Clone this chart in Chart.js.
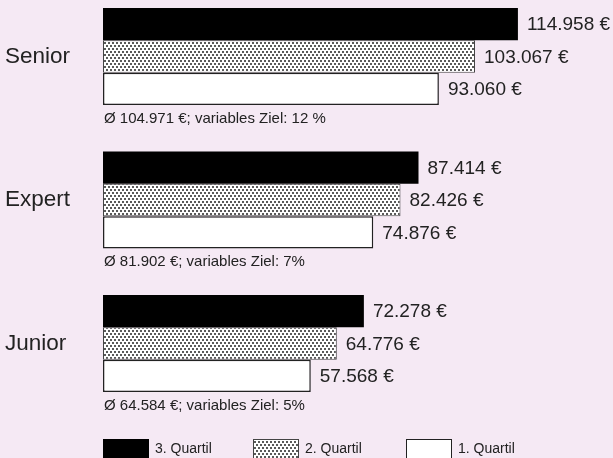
<!DOCTYPE html>
<html lang="de">
<head>
<meta charset="utf-8">
<script src="https://cdn.jsdelivr.net/npm/chart.js@4.4.1/dist/chart.umd.min.js"></script>
<style>
  html, body { margin: 0; padding: 0; background: #f5e9f4; }
  #wrap { width: 613px; height: 458px; position: relative; }
</style>
</head>
<body>
<div id="wrap"><canvas id="chartCanvas"></canvas></div>
<script>
// Gehaltsquartile je Stufe
const categories = ['Senior', 'Expert', 'Junior'];
const seriesLabels = ['3. Quartil', '2. Quartil', '1. Quartil'];
const quartil3 = [114958, 87414, 72278];
const quartil2 = [103067, 82426, 64776];
const quartil1 = [93060, 74876, 57568];
const averages = [104971, 81902, 64584];
const targets = ['12 %', '7%', '5%'];

const FONT = '"Liberation Sans", Arial, sans-serif';
const TEXT = '#222222';
const BG = '#f5e9f4';

// Tausenderpunkt wie im Original
function fmt(v) {
  return String(v).replace(/\B(?=(\d{3})+(?!\d))/g, '.');
}

// gepunktetes Muster fuer das 2. Quartil
function makeDots(ctx) {
  const c = document.createElement('canvas');
  c.width = 4; c.height = 6;
  const g = c.getContext('2d');
  g.fillStyle = '#fff';
  g.fillRect(0, 0, 4, 6);
  g.fillStyle = '#5a5a5a';
  g.fillRect(0, 0, 2, 2);
  g.fillRect(2, 3, 2, 2);
  return ctx.createPattern(c, 'repeat');
}

const ctx = document.getElementById('chartCanvas').getContext('2d');
const dots = makeDots(ctx);

const fills = ['#000000', dots, '#ffffff'];
const borders = ['#000000', '#444444', '#222222'];
const values = [quartil3, quartil2, quartil1];

const bgPlugin = {
  id: 'bg',
  beforeDraw(chart) {
    const c = chart.ctx;
    c.save();
    c.fillStyle = BG;
    c.fillRect(0, 0, chart.width, chart.height);
    c.restore();
  }
};

// Werte rechts neben den Balken, Durchschnitt darunter, Legende unten
const labelPlugin = {
  id: 'labels',
  afterDatasetsDraw(chart) {
    const c = chart.ctx;
    c.save();
    c.fillStyle = TEXT;
    c.textBaseline = 'middle';
    c.font = '19px ' + FONT;
    chart.data.datasets.forEach((ds, i) => {
      chart.getDatasetMeta(i).data.forEach((bar, j) => {
        c.fillText(fmt(values[i][j]) + ' €', bar.x + 9, bar.y + 1);
      });
    });

    const yScale = chart.scales.y;
    c.font = '15px ' + FONT;
    categories.forEach((cat, i) => {
      const y = yScale.getPixelForValue(i) + 62;
      c.fillText('Ø ' + fmt(averages[i]) + ' €; variables Ziel: ' + targets[i], 104, y);
    });

    // Legende
    const legendX = [103, 253, 406];
    c.font = '14px ' + FONT;
    seriesLabels.forEach((lab, i) => {
      const x = legendX[i];
      c.fillStyle = fills[i];
      c.fillRect(x, 439, 46, 22);
      if (i > 0) {
        c.strokeStyle = borders[i];
        c.lineWidth = 1;
        c.strokeRect(x + 0.5, 439.5, 45, 22);
      }
      c.fillStyle = TEXT;
      c.fillText(lab, x + 52, 449);
    });
    c.restore();
  }
};

new Chart(ctx, {
  type: 'bar',
  data: {
    datasets: seriesLabels.map((lab, i) => ({
      label: lab,
      data: values[i].map((v, j) => ({ x: v, y: j })),
      backgroundColor: fills[i],
      borderColor: borders[i],
      borderWidth: i === 0 ? 0 : (i === 1 ? 1 : 1.5),
      borderSkipped: false
    }))
  },
  options: {
    indexAxis: 'y',
    responsive: true,
    maintainAspectRatio: false,
    animation: false,
    categoryPercentage: 0.676,
    barPercentage: 1,
    layout: { padding: { left: 5, top: 0, right: 0, bottom: 0 } },
    plugins: {
      legend: { display: false },
      tooltip: { enabled: false }
    },
    scales: {
      x: {
        type: 'linear',
        display: false,
        min: 0,
        max: 141300
      },
      y: {
        type: 'linear',
        reverse: true,
        offset: false,
        min: -0.3937,
        max: 2.7979,
        grid: { display: false },
        border: { display: false },
        ticks: {
          stepSize: 1,
          includeBounds: false,
          crossAlign: 'far',
          color: TEXT,
          font: { family: FONT, size: 22.5 },
          callback: v => categories[v] ?? ''
        },
        afterFit: s => {
          s.width = 98;
          s.paddingTop = 0;
          s.paddingBottom = 0;
        }
      }
    }
  },
  plugins: [bgPlugin, labelPlugin]
});
</script>
</body>
</html>
